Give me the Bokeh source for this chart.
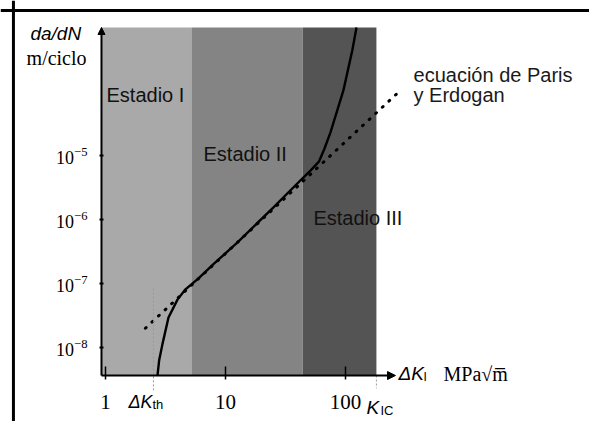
from bokeh.plotting import figure
from bokeh.models import (Range1d, FixedTicker, CustomJSTickFormatter, Arrow,
                          NormalHead, Label, ColumnDataSource, Span)
from bokeh.embed import file_html
from bokeh.resources import INLINE
from bokeh.core.properties import value

# ---------------- data ----------------
stage_names = ["Estadio I", "Estadio II", "Estadio III"]
band_left = [0.926, 5.2, 44.0]
band_right = [5.2, 44.0, 181.0]
band_colors = ["#a9a9a9", "#848484", "#545454"]

# crack growth curve (ΔK in MPa√m, da/dN in m/ciclo)
dk = [2.71, 2.80, 2.99, 3.35, 3.98, 4.64, 5.96, 7.94, 12.6, 25.1, 42.2,
      51.1, 60.0, 66.5, 75.0, 96.2, 114.0, 123.5]
dadn = [3.6e-9, 6.3e-9, 1.15e-8, 2.95e-8, 5.6e-8, 8.1e-8, 1.2e-7, 2.0e-7,
        4.4e-7, 1.55e-6, 4.1e-6, 5.8e-6, 8.0e-6, 1.25e-5, 2.3e-5, 1.05e-4, 4.4e-4, 1.0e-3]

# Paris-Erdogan law (straight line in log-log)
paris_dk = [2.15, 287.0]
paris_dadn = [2.0e-8, 1.04e-4]

dk_th = 2.51
k_ic = 181.0

xtick_vals = [1, 10, 100]
xtick_labels = ["1", "10", "100"]
ytick_vals = [1e-8, 1e-7, 1e-6, 1e-5]

# ---------------- figure ----------------
AX_X, AX_Y = 0.926, 3.65e-9      # axes origin
YTOP = 1.0e-3

p = figure(width=589, height=421, x_axis_type="log", y_axis_type="log",
           x_range=Range1d(0.1334, 10798.0), y_range=Range1d(6.98e-10, 2.64e-3),
           output_backend="svg", toolbar_location=None,
           min_border_left=0, min_border_right=0, min_border_top=0,
           min_border_bottom=0)
p.outline_line_color = None
p.grid.visible = False
p.background_fill_color = "white"
p.border_fill_color = "white"

# picture frame
p.add_layout(Span(location=0.171, dimension="height", line_color="black", line_width=3))
p.add_layout(Span(location=1.85e-3, dimension="width", line_color="black", line_width=3))

# bands
bands = ColumnDataSource(dict(left=band_left, right=band_right, color=band_colors))
p.quad(left="left", right="right", bottom=AX_Y, top=YTOP, fill_color="color",
       line_color=None, source=bands)

# threshold / K_IC dotted markers
p.add_layout(Arrow(end=None, x_start=dk_th, y_start=8.4e-8, x_end=dk_th, y_end=2.1e-9,
                   line_color="#9a9a9a", line_width=1, line_dash="2 2"))
p.add_layout(Arrow(end=None, x_start=k_ic, y_start=AX_Y, x_end=k_ic, y_end=2.3e-9,
                   line_color="#9a9a9a", line_width=1, line_dash="2 2"))

# Paris line
p.line(paris_dk, paris_dadn, line_color="black", line_width=3, line_dash="1 8",
       line_cap="round")
# curve
p.line(dk, dadn, line_color="black", line_width=2.4)

# axis arrows
p.add_layout(Arrow(x_start=AX_X, y_start=AX_Y, x_end=AX_X, y_end=YTOP, line_width=2,
                   end=NormalHead(size=7, fill_color="black", line_color="black")))
p.add_layout(Arrow(x_start=AX_X, y_start=AX_Y, x_end=261.0, y_end=AX_Y, line_width=2,
                   end=NormalHead(size=8, fill_color="black", line_color="black")))

# axes (placed at the origin, inside the canvas)
p.xaxis.fixed_location = AX_Y
p.yaxis.fixed_location = AX_X
p.xaxis.ticker = FixedTicker(ticks=xtick_vals)
p.xaxis.formatter = CustomJSTickFormatter(args=dict(labels=xtick_labels),
                                          code="return labels[index]")
p.yaxis.ticker = FixedTicker(ticks=ytick_vals)
for ax in (p.xaxis, p.yaxis):
    ax.axis_line_color = None
    ax.minor_tick_line_color = None
    ax.major_tick_line_color = "black"
    ax.major_label_text_font = "Liberation Serif"
    ax.major_label_text_color = "black"
p.xaxis.major_tick_in = 9
p.xaxis.major_tick_out = 4
p.xaxis.major_tick_line_width = 1.5
p.xaxis.major_label_text_font_size = "21px"
p.xaxis.major_label_standoff = 15
p.yaxis.major_tick_in = 2
p.yaxis.major_tick_out = 2
p.yaxis.major_tick_line_width = 2
p.yaxis.major_label_text_font_size = "18px"
p.yaxis.major_label_standoff = 12

# stage labels
p.text(x=[1.02, 6.56, 54.1], y=[8.66e-5, 1.07e-5, 1.04e-6], text=stage_names,
       text_font=value("Liberation Sans"), text_font_size="20px",
       text_color="#111111", text_baseline="alphabetic")
p.text(x=[369.0, 369.0], y=[1.78e-4, 8.66e-5], text=["ecuación de Paris", "y Erdogan"],
       text_font=value("Liberation Sans"), text_font_size="20px",
       text_color="#1a1a1a", text_baseline="alphabetic")

# other labels
def lab(x, y, t, font, size, style="normal"):
    p.add_layout(Label(x=x, y=y, text=t, text_font=font, text_font_size=size,
                       text_font_style=style, text_color="black",
                       text_baseline="alphabetic"))

lab(0.237, 8.06e-4, "da/dN", "Liberation Sans", "19px", "italic")
lab(0.22, 3.28e-4, "m/ciclo", "Liberation Serif", "20px")
lab(1.555, 1.43e-9, "ΔK", "Liberation Sans", "18px", "italic")
lab(2.46, 1.29e-9, "th", "Liberation Sans", "13px")
lab(149.6, 1.15e-9, "K", "Liberation Sans", "19px", "italic")
lab(195.7, 1.04e-9, "IC", "Liberation Sans", "13px")
lab(276.5, 3.92e-9, "ΔK", "Liberation Sans", "19px", "italic")
lab(446.7, 3.52e-9, "I", "Liberation Sans", "12px")
lab(655.5, 3.92e-9, "MPa√m\u0305", "Liberation Serif", "20px")

open("out.html", "w").write(file_html(p, INLINE))
